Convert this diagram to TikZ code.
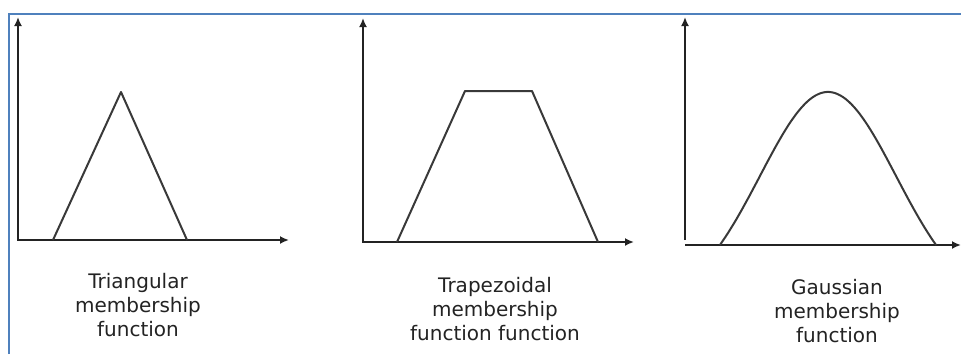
\documentclass[tikz,border=0pt]{standalone}
\usepackage{fontspec}
\setmainfont{DejaVu Sans}
\usetikzlibrary{arrows.meta}
\definecolor{frameblue}{RGB}{79,129,189}
\definecolor{inkgray}{RGB}{35,35,35}

\begin{document}
\begin{tikzpicture}[x=1pt, y=-1pt,
    axis/.style={line width=2.6pt, draw=inkgray, {Latex[length=9pt,width=8pt]}-{Latex[length=9pt,width=8pt]}},
    yaxis/.style={line width=2.6pt, draw=inkgray, -{Latex[length=9pt,width=8pt]}},
    curve/.style={line width=2pt, draw=inkgray!90, line join=round},
    caption/.style={anchor=base, align=center, text=inkgray, font=\fontsize{20}{24}\selectfont}]
    \useasboundingbox (0,0) rectangle (961,354);

    % frame
    \draw[frameblue, line width=2.4pt] (9,354) -- (9,14) -- (961,14);

    % triangular
    \coordinate (O1) at (18,240);
    \coordinate (A1) at (53,240);
    \coordinate (B1) at (121,92);
    \coordinate (C1) at (187,240);

    \draw[axis] (18,17) -- (O1) -- (289,240);
    \draw[curve] (A1) -- (B1) -- (C1);
    \node[caption] (tri) at (138,336) {Triangular\\membership\\function};

    % trapezoidal
    \coordinate (O2) at (363,242);
    \coordinate (A2) at (397,242);
    \coordinate (B2) at (465,91);
    \coordinate (C2) at (532,91);
    \coordinate (D2) at (598,242);

    \draw[axis] (363,18) -- (O2) -- (634,242);
    \draw[curve] (A2) -- (B2) -- (C2) -- (D2);
    \node[caption] (trap) at (495,340) {Trapezoidal\\membership\\function function};

    % gaussian
    \coordinate (O3) at (685,245);

    \draw[yaxis] (685,240) -- (685,17);
    \draw[yaxis] (O3) -- (961,245);
    \draw[curve] plot[domain=-108:108, samples=80] ({828+\x}, {245-153*(exp(-\x*\x/9248)-0.283)/0.717});
    \node[caption] (gauss) at (837,342) {Gaussian\\membership\\function};
\end{tikzpicture}
\end{document}
